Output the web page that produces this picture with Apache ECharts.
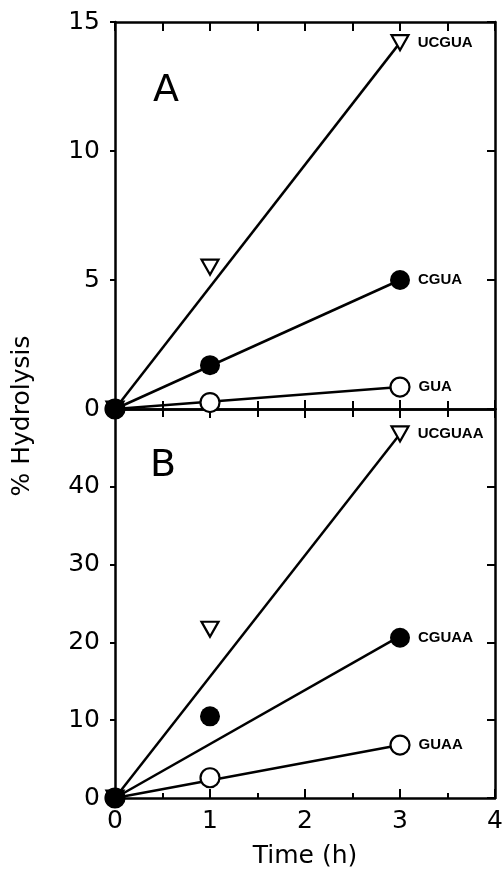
<!DOCTYPE html>
<html>
<head>
<meta charset="utf-8">
<script src="https://cdn.jsdelivr.net/npm/echarts@6/dist/echarts.min.js"></script>
<style>
html,body{margin:0;padding:0;background:#fff;}
#chart{width:502px;height:869px;}
</style>
</head>
<body>
<div id="chart"></div>
<script>
// ---- data ----
const timesPts = [0, 1, 3];
const namesA = ['UCGUA', 'CGUA', 'GUA'];
const pointsA_UCGUA = [0, 5.5, 14.2];
const pointsA_CGUA = [0, 1.7, 5.0];
const pointsA_GUA = [0, 0.25, 0.85];
const fitEndA = [14.2, 5.0, 0.85];

const namesB = ['UCGUAA', 'CGUAA', 'GUAA'];
const pointsB_UCGUAA = [0, 21.7, 46.8];
const pointsB_CGUAA = [0, 10.5, 20.6];
const pointsB_GUAA = [0, 2.6, 6.8];
const fitEndB = [46.8, 20.8, 6.8];
const fitTimes = [0, 3];

const xTicks = [0, 1, 2, 3, 4];
const yTicksA = [0, 5, 10, 15];
const yTicksB = [0, 10, 20, 30, 40];

const panelLabels = ['A', 'B'];
const xName = 'Time (h)';
const yName = '% Hydrolysis';

// ---- styles ----
const FONT = 'DejaVu Sans';
const markerStyles = [
  {symbol: 'triangle', symbolRotate: 180, symbolSize: [17, 15], itemStyle: {color: '#fff', borderColor: '#000', borderWidth: 2.2, opacity: 1}},
  {symbol: 'circle', symbolRotate: 0, symbolSize: 20, itemStyle: {color: '#000', borderColor: '#000', borderWidth: 0, opacity: 1}},
  {symbol: 'circle', symbolRotate: 0, symbolSize: 19, itemStyle: {color: '#fff', borderColor: '#000', borderWidth: 2.2, opacity: 1}}
];

const grids = [
  {left: 115, top: 22, width: 380, height: 387, containLabel: false, outerBoundsMode: 'none'},
  {left: 115, top: 409, width: 380, height: 389, containLabel: false, outerBoundsMode: 'none'}
];

function xAx(gridIndex, position, showLabel, minorLen) {
  return {
    type: 'value', gridIndex, position, min: xTicks[0], max: xTicks[xTicks.length - 1], interval: 1,
    axisLine: {show: true, onZero: false, lineStyle: {color: '#000', width: 2.5}},
    axisTick: {show: true, inside: true, length: 9, lineStyle: {color: '#000', width: 2}},
    minorTick: {show: true, splitNumber: 2, length: minorLen, lineStyle: {color: '#000', width: 2}},
    splitLine: {show: false},
    axisLabel: {show: showLabel, margin: 11, color: '#000', fontFamily: FONT, fontSize: 25},
    name: showLabel ? xName : '', nameLocation: 'middle', nameGap: 46,
    nameTextStyle: {color: '#000', fontFamily: FONT, fontSize: 25}
  };
}
function yAx(gridIndex, position, ticks, max, showLabel) {
  return {
    type: 'value', gridIndex, position, min: 0, max: max, interval: ticks[1] - ticks[0],
    axisLine: {show: true, onZero: false, lineStyle: {color: '#000', width: 2.5}},
    axisTick: {show: true, inside: position === 'right', length: position === 'right' ? 8 : 5, lineStyle: {color: '#000', width: 2}},
    splitLine: {show: false},
    axisLabel: {
      show: showLabel, margin: 15, color: '#000', fontFamily: FONT, fontSize: 25,
      formatter: v => (ticks.indexOf(v) >= 0 ? String(v) : '')
    }
  };
}

const xAxis = [
  xAx(0, 'bottom', false, 8), xAx(0, 'top', false, 9),
  xAx(1, 'bottom', true, 5), xAx(1, 'top', false, 8)
];
const yAxis = [
  yAx(0, 'left', yTicksA, 15, true), yAx(0, 'right', yTicksA, 15, false),
  yAx(1, 'left', yTicksB, 50, true), yAx(1, 'right', yTicksB, 50, false)
];

function buildPanel(names, pointSets, fitEnds, xIdx, yIdx) {
  const s = [];
  names.forEach((nm, k) => {
    s.push({
      type: 'line', name: nm + ' fit', xAxisIndex: xIdx, yAxisIndex: yIdx,
      data: fitTimes.map((t, i) => [t, i === 0 ? 0 : fitEnds[k]]),
      showSymbol: false, symbol: 'none', lineStyle: {color: '#000', width: 2.5, opacity: 1}, z: 2,
      silent: true, animation: false
    });
  });
  const order = [0, 2, 1];
  order.forEach(k => {
    const ms = markerStyles[k];
    const pts = pointSets[k];
    s.push({
      type: 'scatter', name: names[k], xAxisIndex: xIdx, yAxisIndex: yIdx,
      symbol: ms.symbol, symbolRotate: ms.symbolRotate, symbolSize: ms.symbolSize,
      itemStyle: ms.itemStyle, z: 5, animation: false,
      data: timesPts.map((t, i) => i === timesPts.length - 1 ? {
        value: [t, pts[i]],
        label: {show: true, position: 'right', distance: 8, formatter: names[k],
                color: '#000', opacity: 1, fontFamily: 'Liberation Sans', fontWeight: 'bold', fontSize: 15}
      } : [t, pts[i]])
    });
  });
  return s;
}

const series = [].concat(
  buildPanel(namesA, [pointsA_UCGUA, pointsA_CGUA, pointsA_GUA], fitEndA, 0, 0),
  buildPanel(namesB, [pointsB_UCGUAA, pointsB_CGUAA, pointsB_GUAA], fitEndB, 2, 2)
);

const chart = echarts.init(document.getElementById('chart'), null, {renderer: 'canvas'});
chart.setOption({
  backgroundColor: '#fff',
  animation: false,
  grid: grids,
  xAxis, yAxis, series,
  graphic: [
    {type: 'text', x: 153, y: 72, style: {text: panelLabels[0], fill: '#000', font: '38px "DejaVu Sans"'}},
    {type: 'text', x: 150, y: 447, style: {text: panelLabels[1], fill: '#000', font: '38px "DejaVu Sans"'}},
    {type: 'text', x: 22, y: 416, rotation: Math.PI / 2,
     style: {text: yName, fill: '#000', font: '25px "DejaVu Sans"', align: 'center', verticalAlign: 'middle'}}
  ]
});
</script>
</body>
</html>
